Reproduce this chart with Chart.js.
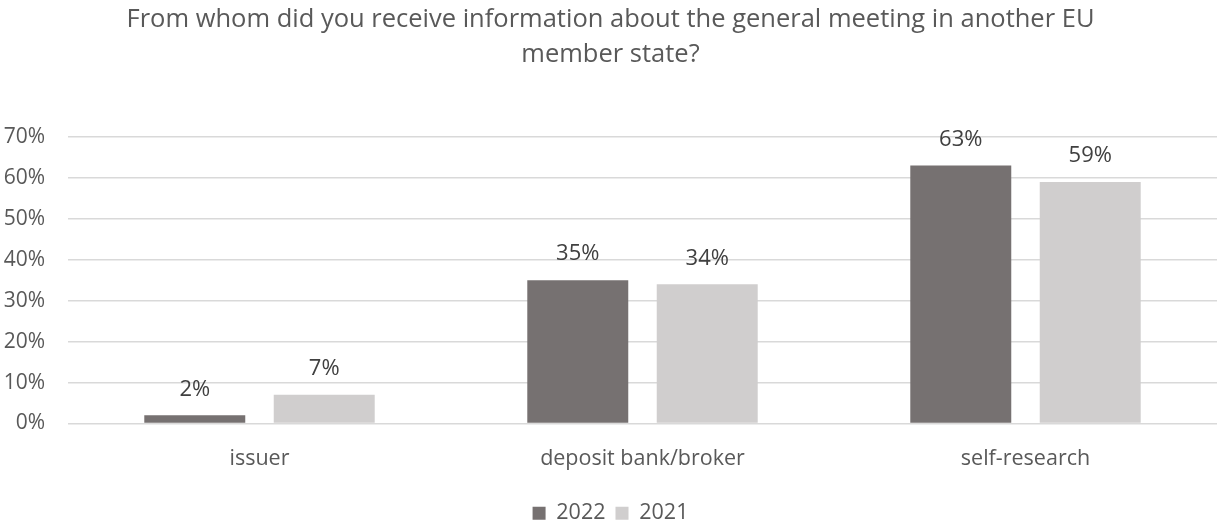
<!DOCTYPE html>
<html>
<head>
<meta charset="utf-8">
<title>General meeting information sources</title>
<script src="https://cdn.jsdelivr.net/npm/chart.js@4"></script>
<style>
  html, body { margin: 0; padding: 0; background: #fff; }
  #wrap { width: 1217px; height: 524px; }
</style>
</head>
<body>
<div id="wrap"><canvas id="sourceChart"></canvas></div>
<script>
const titleLines = [
  'From whom did you receive information about the general meeting in another EU',
  'member state?',
];
const categories = ['issuer', 'deposit bank/broker', 'self-research'];
const years = ['2022', '2021'];
const values2022 = [2, 35, 63];
const values2021 = [7, 34, 59];
const yTicks = [0, 10, 20, 30, 40, 50, 60, 70];

const FONT = '"Open Sans", "Noto Sans", sans-serif';

// percent labels above each bar
const valueLabels = {
  id: 'valueLabels',
  afterDatasetsDraw(chart) {
    const { ctx } = chart;
    ctx.save();
    ctx.font = '22px ' + FONT;
    ctx.fillStyle = '#404040';
    ctx.textAlign = 'center';
    ctx.textBaseline = 'middle';
    chart.data.datasets.forEach((ds, i) => {
      chart.getDatasetMeta(i).data.forEach((bar, j) => {
        ctx.fillText(ds.data[j] + '%', bar.x, bar.y - 26);
      });
    });
    ctx.restore();
  },
};

function buildChart() {
  const ctx = document.getElementById('sourceChart');
  new Chart(ctx, {
    type: 'bar',
    data: {
      labels: categories,
      datasets: [
        { label: years[0], data: values2022, backgroundColor: '#767171' },
        { label: years[1], data: values2021, backgroundColor: '#d0cece' },
      ],
    },
    options: {
      responsive: true,
      maintainAspectRatio: false,
      animation: false,
      categoryPercentage: 0.676,
      barPercentage: 0.78,
      // legend sits low, so its lower padding runs past the canvas edge
      layout: { padding: { left: 4, right: 0, top: 0, bottom: -10 } },
      plugins: {
        tooltip: { enabled: false },
        title: {
          display: true,
          text: titleLines,
          color: '#595959',
          font: { family: FONT, size: 25.5, weight: 'normal', lineHeight: 1.35 },
          padding: { top: 3, bottom: 65 },
        },
        legend: {
          position: 'bottom',
          labels: {
            color: '#595959',
            font: { family: FONT, size: 21.5 },
            boxWidth: 13,
            boxHeight: 13,
            padding: 10,
          },
        },
      },
      scales: {
        x: {
          grid: { display: false, drawTicks: false },
          border: { display: false },
          ticks: { color: '#595959', font: { family: FONT, size: 21.5 }, padding: 22 },
          afterFit(scale) { scale.height = 69; },
        },
        y: {
          min: yTicks[0],
          max: yTicks[yTicks.length - 1],
          afterBuildTicks(scale) { scale.ticks = yTicks.map((v) => ({ value: v })); },
          grid: { color: '#d9d9d9', lineWidth: 1.5, drawTicks: false },
          border: { display: false },
          ticks: {
            color: '#595959',
            font: { family: FONT, size: 21 },
            padding: 23,
            callback: (v) => v + '%',
          },
          afterFit(scale) { scale.width = 64; },
        },
      },
    },
    plugins: [valueLabels],
  });
}

document.fonts.load('20px "Open Sans"').then(buildChart, buildChart);
</script>
</body>
</html>
